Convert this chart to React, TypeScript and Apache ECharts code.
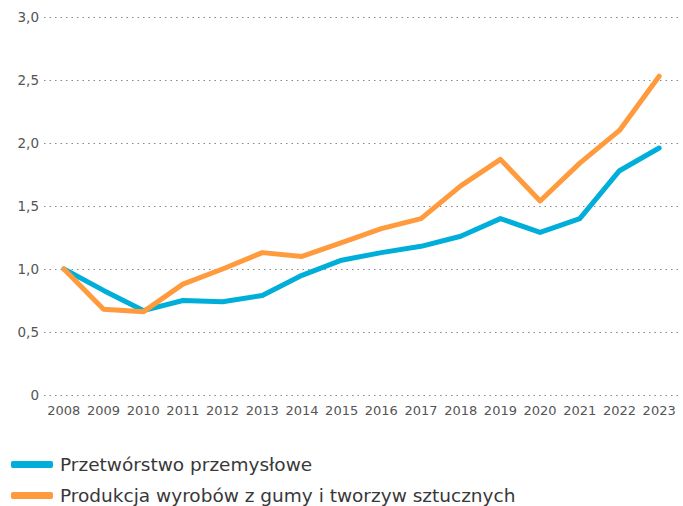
import React, { useEffect, useRef } from "react";
import * as echarts from "echarts";

const years = ["2008","2009","2010","2011","2012","2013","2014","2015","2016","2017","2018","2019","2020","2021","2022","2023"];
const przetworstwo = [1.0, 0.83, 0.67, 0.75, 0.74, 0.79, 0.95, 1.07, 1.13, 1.18, 1.26, 1.40, 1.29, 1.40, 1.78, 1.96];
const gumy = [1.0, 0.68, 0.66, 0.88, 1.0, 1.13, 1.10, 1.21, 1.32, 1.40, 1.66, 1.87, 1.54, 1.84, 2.10, 2.53];
const seriesNames = ["Przetwórstwo przemysłowe", "Produkcja wyrobów z gumy i tworzyw sztucznych"];

const FONT = "'DejaVu Sans', 'Noto Sans', sans-serif";

const legendBase = {
  orient: "horizontal",
  left: 6,
  itemWidth: 42,
  itemHeight: 7,
  icon: "roundRect",
  textStyle: { fontFamily: FONT, fontSize: 18.5, color: "#383838", padding: [0, 0, 0, 2] },
};

export default function App() {
  const ref = useRef<HTMLDivElement>(null);
  useEffect(() => {
    const chart = echarts.init(ref.current!, null, { renderer: "svg" });
    chart.setOption({
      animation: false,
      grid: { left: 44, right: 4, top: 17, bottom: 111, containLabel: false },
      legend: [
        { ...legendBase, top: 450, data: [seriesNames[0]] },
        { ...legendBase, top: 481, data: [seriesNames[1]] },
      ],
      xAxis: {
        type: "category",
        data: years,
        boundaryGap: true,
        axisLine: { show: false },
        axisTick: { show: false },
        axisLabel: { color: "#555", fontFamily: FONT, fontSize: 13, margin: 9, interval: 0 },
      },
      yAxis: {
        type: "value",
        min: 0,
        max: 3,
        interval: 0.5,
        axisLine: { show: false },
        axisTick: { show: false },
        axisLabel: {
          color: "#555",
          fontFamily: FONT,
          fontSize: 13.5,
          margin: 5,
          formatter: (v: number) => (v === 0 ? "0" : v.toFixed(1).replace(".", ",")),
        },
        splitLine: { lineStyle: { color: "#888", width: 1.2, type: [1.5, 4] } },
      },
      series: [
        {
          name: seriesNames[0],
          type: "line",
          data: przetworstwo,
          symbol: "none",
          lineStyle: { color: "#00AEDA", width: 5, cap: "round", join: "round" },
          itemStyle: { color: "#00AEDA" },
        },
        {
          name: seriesNames[1],
          type: "line",
          data: gumy,
          symbol: "none",
          lineStyle: { color: "#FF9A3D", width: 5, cap: "round", join: "round" },
          itemStyle: { color: "#FF9A3D" },
        },
      ],
    });
    return () => chart.dispose();
  }, []);
  return <div ref={ref} style={{ width: 683, height: 506, position: "absolute", left: 0, top: 0 }} />;
}
